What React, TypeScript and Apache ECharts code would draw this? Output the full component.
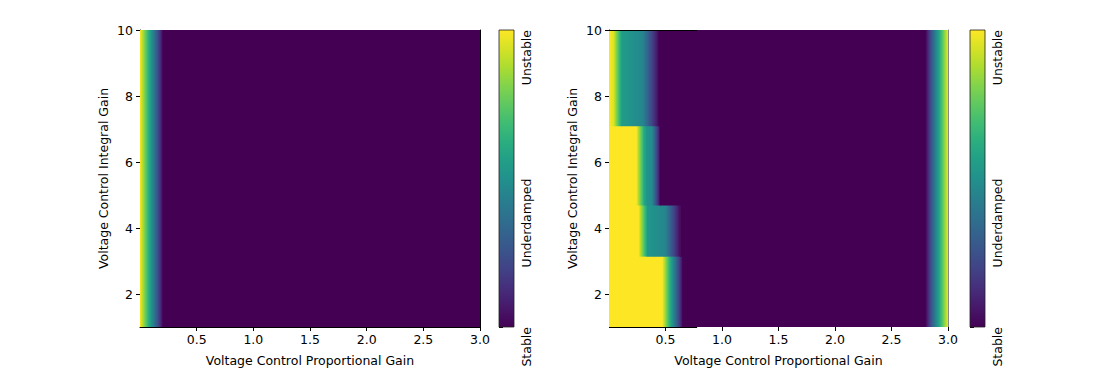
import React, { useEffect, useRef } from "react";
import * as echarts from "echarts";

// ---- tick labels / categories ----
const xTicks = [0.5, 1.0, 1.5, 2.0, 2.5, 3.0];
const yTicks = [2, 4, 6, 8, 10];
const stateLabels = ["Stable", "Underdamped", "Unstable"];
const stateTicks = [0, 1, 2];
const xRange = [0, 3];
const yRange = [1, 10];
const stateRange = [0, 2];

// ---- left plot: row bands (Ki edges) and per-band Kp profile nodes ----
const p1RowEdges = [1, 10];
const p1NodeX = [[0, 0.2, 3.0]];
const p1NodeV = [[2, 0, 0]];

// ---- right plot ----
const p2RowEdges = [1, 3.15, 4.7, 7.1, 10];
const p2NodeX = [
  [0, 0.47, 0.65, 2.8, 3.0],
  [0, 0.26, 0.34, 0.5, 0.63, 2.8, 3.0],
  [0, 0.24, 0.32, 0.38, 0.45, 2.8, 3.0],
  [0, 0.04, 0.11, 0.3, 0.44, 2.8, 3.0],
];
const p2NodeV = [
  [2, 2, 0, 0, 2],
  [2, 2, 1.05, 0.9, 0, 0, 2],
  [2, 2, 1.05, 0.95, 0, 0, 2],
  [2, 1.9, 1.1, 0.9, 0, 0, 2],
];
const p2SpineEnd = 0.78;

const viridisStops = [
  "#440154", "#482475", "#414487", "#355f8d", "#2a788e", "#21918c",
  "#22a884", "#44bf70", "#7ad151", "#bddf26", "#fde725",
];

function hexToRgb(h: string) {
  return [parseInt(h.slice(1, 3), 16), parseInt(h.slice(3, 5), 16), parseInt(h.slice(5, 7), 16)];
}
function viridis(t: number) {
  const c = Math.max(0, Math.min(1, t)) * (viridisStops.length - 1);
  const i = Math.min(Math.floor(c), viridisStops.length - 2);
  const f = c - i;
  const a = hexToRgb(viridisStops[i]);
  const b = hexToRgb(viridisStops[i + 1]);
  const r = a.map((v, k) => Math.round(v + (b[k] - v) * f));
  return `rgb(${r[0]},${r[1]},${r[2]})`;
}
const vmax = stateRange[1];

function buildSegments(rowEdges: number[], nodeX: number[][], nodeV: number[][]) {
  const out: number[][] = [];
  for (let r = 0; r < nodeX.length; r++) {
    const nx = nodeX[r];
    const nv = nodeV[r];
    for (let k = 0; k < nx.length - 1; k++) {
      out.push([nx[k], nx[k + 1], rowEdges[r], rowEdges[r + 1], nv[k], nv[k + 1]]);
    }
  }
  return out;
}

function gradientStops(v0: number, v1: number) {
  const n = 16;
  const stops = [];
  for (let i = 0; i <= n; i++) {
    const v = v0 + ((v1 - v0) * i) / n;
    stops.push({ offset: i / n, color: viridis(v / vmax) });
  }
  return stops;
}

function renderCell(params: any, api: any) {
  const x0 = api.value(0), x1 = api.value(1), y0 = api.value(2), y1 = api.value(3);
  const v0 = api.value(4), v1 = api.value(5);
  const a = api.coord([x0, y1]);
  const b = api.coord([x1, y0]);
  const fill =
    v0 === v1
      ? viridis(v0 / vmax)
      : new echarts.graphic.LinearGradient(0, 0, 1, 0, gradientStops(v0, v1));
  return {
    type: "rect",
    shape: { x: a[0], y: a[1], width: b[0] - a[0] + 0.6, height: b[1] - a[1] + 0.6 },
    style: { fill },
  };
}

function renderColorbar(params: any, api: any) {
  const a = api.coord([api.value(0), api.value(3)]);
  const b = api.coord([api.value(1), api.value(2)]);
  const v0 = api.value(4), v1 = api.value(5);
  return {
    type: "rect",
    shape: { x: a[0], y: a[1], width: b[0] - a[0], height: b[1] - a[1] },
    style: {
      fill: new echarts.graphic.LinearGradient(0, 1, 0, 0, gradientStops(v0, v1)),
      stroke: "#222",
      lineWidth: 0.8,
    },
  };
}

const font = "DejaVu Sans";
const black = "#000";
const fs = 12.5;

function mainXAxis(gridIndex: number, showLine: boolean) {
  return {
    type: "value",
    gridIndex,
    min: xRange[0],
    max: xRange[1],
    position: "bottom",
    axisLine: { show: showLine, onZero: false, lineStyle: { color: black, width: 1 } },
    axisTick: { show: true, length: 4, customValues: xTicks, lineStyle: { color: black } },
    axisLabel: {
      show: true,
      customValues: xTicks,
      margin: 6,
      fontSize: fs,
      color: black,
      fontFamily: font,
      formatter: (v: number) => v.toFixed(1),
    },
    splitLine: { show: false },
    name: "Voltage Control Proportional Gain",
    nameLocation: "middle",
    nameGap: 27,
    nameTextStyle: { fontSize: fs, color: black, fontFamily: font },
  };
}
function mainYAxis(gridIndex: number) {
  return {
    type: "value",
    gridIndex,
    min: yRange[0],
    max: yRange[1],
    position: "left",
    axisLine: { show: true, onZero: false, lineStyle: { color: black, width: 1 } },
    axisTick: { show: true, length: 4, customValues: yTicks, lineStyle: { color: black } },
    axisLabel: {
      show: true,
      customValues: yTicks,
      margin: 7,
      fontSize: fs,
      color: black,
      fontFamily: font,
      formatter: (v: number) => String(v),
    },
    splitLine: { show: false },
    name: "Voltage Control Integral Gain",
    nameLocation: "middle",
    nameGap: 30,
    nameTextStyle: { fontSize: fs, color: black, fontFamily: font },
  };
}
function lineOnlyAxis(kind: "x" | "y", gridIndex: number, position: string, color: string) {
  const r = kind === "x" ? xRange : yRange;
  return {
    type: "value",
    gridIndex,
    min: r[0],
    max: r[1],
    position,
    axisLine: { show: true, onZero: false, lineStyle: { color, width: 1 } },
    axisTick: { show: false },
    axisLabel: { show: false },
    splitLine: { show: false },
  };
}
function cbXAxis(gridIndex: number) {
  return {
    type: "value",
    gridIndex,
    min: 0,
    max: 1,
    show: false,
  };
}
function cbYAxis(gridIndex: number) {
  return {
    type: "value",
    gridIndex,
    min: stateRange[0],
    max: stateRange[1],
    position: "right",
    axisLine: { show: false },
    axisTick: { show: true, length: 4, customValues: stateTicks, lineStyle: { color: black } },
    axisLabel: {
      show: true,
      customValues: stateTicks,
      rotate: 90,
      align: "right",
      verticalAlign: "top",
      margin: 6,
      fontSize: fs,
      color: black,
      fontFamily: font,
      formatter: (v: number) => stateLabels[Math.round(v)],
    },
    splitLine: { show: false },
  };
}

const p1Data = buildSegments(p1RowEdges, p1NodeX, p1NodeV);
const p2Data = buildSegments(p2RowEdges, p2NodeX, p2NodeV);
const cbData = [[0, 1, stateRange[0], stateRange[1], stateRange[0], stateRange[1]]];

export default function App() {
  const ref = useRef<HTMLDivElement>(null);
  useEffect(() => {
    if (!ref.current) return;
    const chart = echarts.init(ref.current, null, { renderer: "svg" });
    chart.setOption({
      animation: false,
      backgroundColor: "#fff",
      textStyle: { fontFamily: font },
      grid: [
        { left: 140, top: 30, width: 340, height: 297 },
        { left: 499, top: 30, width: 15, height: 297 },
        { left: 609, top: 30, width: 339, height: 297 },
        { left: 970, top: 30, width: 15, height: 297 },
      ],
      xAxis: [
        mainXAxis(0, true),
        lineOnlyAxis("x", 0, "top", black),
        cbXAxis(1),
        mainXAxis(2, false),
        cbXAxis(3),
      ],
      yAxis: [
        mainYAxis(0),
        lineOnlyAxis("y", 0, "right", black),
        cbYAxis(1),
        mainYAxis(2),
        lineOnlyAxis("y", 2, "right", "#888"),
        cbYAxis(3),
      ],
      series: [
        {
          type: "custom",
          xAxisIndex: 0,
          yAxisIndex: 0,
          renderItem: renderCell,
          encode: { x: [0, 1], y: [2, 3] },
          data: p1Data,
          clip: true,
          silent: true,
        },
        {
          type: "custom",
          xAxisIndex: 2,
          yAxisIndex: 2,
          renderItem: renderColorbar,
          encode: { x: [0, 1], y: [2, 3] },
          data: cbData,
          silent: true,
        },
        {
          type: "custom",
          xAxisIndex: 3,
          yAxisIndex: 3,
          renderItem: renderCell,
          encode: { x: [0, 1], y: [2, 3] },
          data: p2Data,
          clip: true,
          silent: true,
          markLine: {
            silent: true,
            symbol: ["none", "none"],
            label: { show: false },
            lineStyle: { color: black, width: 1, type: "solid" },
            data: [
              [{ coord: [xRange[0], yRange[1]] }, { coord: [p2SpineEnd, yRange[1]] }],
              [{ coord: [xRange[0], yRange[0]] }, { coord: [p2SpineEnd, yRange[0]] }],
            ],
          },
        },
        {
          type: "custom",
          xAxisIndex: 4,
          yAxisIndex: 5,
          renderItem: renderColorbar,
          encode: { x: [0, 1], y: [2, 3] },
          data: cbData,
          silent: true,
        },
      ],
    });
    return () => chart.dispose();
  }, []);
  return (
    <div
      ref={ref}
      style={{ position: "fixed", left: 0, top: 0, width: 1100, height: 389, background: "#fff" }}
    />
  );
}
